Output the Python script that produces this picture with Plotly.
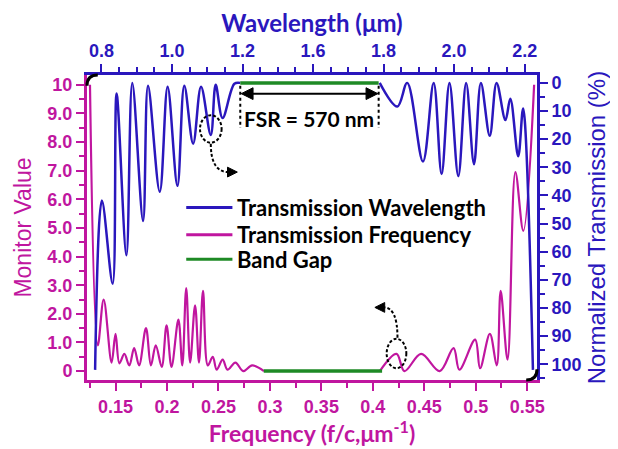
import plotly.graph_objects as go

# ---------------- data ----------------
# Transmission vs frequency (bottom axis, left axis "Monitor Value"); None = band gap (drawn in green)
freq = [0.1252, 0.1328, 0.1385, 0.1462, 0.1500, 0.1538, 0.1586, 0.1634, 0.1681, 0.1729,
        0.1796, 0.1844, 0.1891, 0.1949, 0.1996, 0.2044, 0.2111, 0.2149, 0.2187, 0.2225,
        0.2273, 0.2311, 0.2350, 0.2397, 0.2445, 0.2483, 0.2541, 0.2588, 0.2665, 0.2741,
        0.2827, 0.2942, None, 0.4068, 0.4230, 0.4307, 0.4469, 0.4650, 0.4784, 0.4841, 0.4994,
        0.5042, 0.5137, 0.5204, 0.5242, 0.5309, 0.5385, 0.5462, 0.5567]
monitor = [10.0, 0.9, 2.5, 0.3, 1.3, 0.27, 0.6, 0.2, 0.8, 0.2,
           1.5, 0.2, 0.9, 0.15, 1.6, 0.15, 1.8, 0.2, 2.9, 0.3,
           2.3, 0.3, 2.8, 0.2, 0.5, 0.05, 0.4, 0.05, 0.3, 0.0,
           0.2, 0.0, None, 0.0, 0.6, 0.0, 0.6, 0.0, 0.8, 0.05, 1.1,
           0.1, 1.3, 0.2, 2.8, 0.4, 6.95, 4.9, 10.0]

# Transmission vs wavelength (top axis, right axis "Normalized Transmission (%)")
wavelength = [0.782, 0.8012, 0.8318, 0.8429, 0.8707, 0.8874, 0.918, 0.932, 0.9653, 0.9876,
              1.0154, 1.0349, 1.06, 1.0823, 1.11, 1.1239, 1.1434, 1.1769, 1.1936, None, 1.589,
              1.639, 1.667, 1.7116, 1.742, 1.7645, 1.7868, 1.8118, 1.8341, 1.8564, 1.8759,
              1.901, 1.9204, 1.9455, 1.9594, 1.9817, 1.9956, 2.0235]
transmission = [102, 41.8, 71.4, 3.8, 61.3, 0.0, 49.1, 1.0, 38.7, 1.4,
                36.6, 1.0, 21.6, 1.4, 18.5, 0.7, 12.5, 0.3, 0.0, None, 0.0,
                8.4, 0.0, 27.9, 0.0, 32.4, 0.0, 33.1, 0.0, 28.9, 0.0,
                18.8, 0.0, 13.2, 5.6, 26.1, 9.1, 102]

# Band gap
gap_freq = [0.294, 0.409]
gap_freq_val = [0.0, 0.0]
gap_wl = [1.1936, 1.586]
gap_wl_val = [0.0, 0.0]

# Axis ticks
left_vals = [0, 1, 2, 3, 4, 5, 6, 7, 8, 9, 10]
left_text = ["0", "1.0", "2.0", "3.0", "4.0", "5.0", "6.0", "7.0", "8.0", "9.0", "10"]
right_vals = [0, 10, 20, 30, 40, 50, 60, 70, 80, 90, 100]
right_text = [str(v) for v in right_vals]
bottom_vals = [0.15, 0.2, 0.25, 0.3, 0.35, 0.4, 0.45, 0.5, 0.55]
bottom_text = ["0.15", "0.2", "0.25", "0.3", "0.35", "0.4", "0.45", "0.5", "0.55"]
top_vals = [0.8, 1.0, 1.2, 1.4, 1.6, 1.8, 2.0]
top_text = ["0.8", "1.0", "1.2", "1.6", "1.8", "2.0", "2.2"]

legend_names = ["Transmission Wavelength", "Transmission Frequency", "Band Gap"]
fsr_label = "FSR = 570 nm"

# ---------------- style ----------------
BLUE = "#2a17bd"
MAG = "#c0169f"
GREEN = "#1e8a25"
OFF = 8                      # page body margin
W, H = 618 - OFF, 449 - OFF
L, T = 87 - OFF, 69 - OFF
R, B = W - (545 - OFF), H - (380 - OFF)
PW, PH = W - L - R, H - T - B


def px(x):   # page pixel -> paper
    return (x - OFF - L) / PW


def py(y):
    return (H - B - (y - OFF)) / PH


fig = go.Figure()
fig.add_trace(go.Scatter(x=wavelength, y=transmission, xaxis="x2", yaxis="y2", mode="lines",
                         line=dict(color=BLUE, width=2.5, shape="spline", smoothing=1.0),
                         name=legend_names[0], showlegend=False, connectgaps=False))
fig.add_trace(go.Scatter(x=freq, y=monitor, mode="lines",
                         line=dict(color=MAG, width=2.2, shape="spline", smoothing=1.0),
                         name=legend_names[1], showlegend=False, connectgaps=False))
fig.add_trace(go.Scatter(x=gap_freq, y=gap_freq_val, mode="lines",
                         line=dict(color=GREEN, width=3.5), name=legend_names[2], showlegend=False))
fig.add_trace(go.Scatter(x=gap_wl, y=gap_wl_val, xaxis="x2", yaxis="y2", mode="lines",
                         line=dict(color=GREEN, width=3.5), name=legend_names[2], showlegend=False))

tickfont_mag = dict(family="Liberation Sans", size=18, color=MAG, weight="bold")
tickfont_blue = dict(family="Liberation Sans", size=18, color=BLUE, weight="bold")

fig.update_layout(
    width=W, height=H, margin=dict(l=L, r=R, t=T, b=B),
    paper_bgcolor="white", plot_bgcolor="white", showlegend=False,
    xaxis=dict(range=[0.1223, 0.5595], tickvals=bottom_vals, ticktext=bottom_text,
               showline=True, linecolor=MAG, linewidth=3, ticks="outside", ticklen=8,
               tickwidth=2, tickcolor=MAG, tickfont=tickfont_mag, showgrid=False, zeroline=False,
               minor=dict(dtick=0.025, tick0=0.125, ticklen=5, tickwidth=1.5, tickcolor=MAG,
                          ticks="outside", showgrid=False),
               title=dict(text="Frequency (f/c,μm<sup>-1</sup>)",
                          font=dict(family="Lato", size=23, color=MAG, weight="bold"), standoff=4)),
    yaxis=dict(range=[-0.31, 10.34], tickvals=left_vals, ticktext=left_text,
               showline=True, linecolor=MAG, linewidth=3, ticks="outside", ticklen=8,
               tickwidth=2, tickcolor=MAG, tickfont=tickfont_mag, showgrid=False, zeroline=False,
               minor=dict(dtick=0.5, tick0=0, ticklen=5, tickwidth=1.5, tickcolor=MAG,
                          ticks="outside", showgrid=False),
               title=dict(text="Monitor Value",
                          font=dict(family="Liberation Sans", size=23, color=MAG), standoff=10)),
    xaxis2=dict(range=[0.759, 2.035], overlaying="x", side="top", anchor="y",
                tickvals=top_vals, ticktext=top_text,
                showline=True, linecolor=BLUE, linewidth=3, ticks="outside", ticklen=8,
                tickwidth=2, tickcolor=BLUE, tickfont=tickfont_blue, showgrid=False, zeroline=False,
                minor=dict(dtick=0.05, tick0=0.8, ticklen=5, tickwidth=1.5, tickcolor=BLUE,
                           ticks="outside", showgrid=False),
                title=dict(text="Wavelength (μm)",
                           font=dict(family="Lato", size=24, color=BLUE, weight="bold"), standoff=4)),
    yaxis2=dict(range=[105.6, -2.8], overlaying="y", side="right", anchor="x",
                tickvals=right_vals, ticktext=right_text,
                showline=True, linecolor=BLUE, linewidth=3, ticks="outside", ticklen=8,
                tickwidth=2, tickcolor=BLUE, tickfont=tickfont_blue, showgrid=False, zeroline=False,
                minor=dict(dtick=5, tick0=0, ticklen=5, tickwidth=1.5, tickcolor=BLUE,
                           ticks="outside", showgrid=False),
                title=dict(text="Normalized Transmission (%)",
                           font=dict(family="Liberation Sans", size=24, color=BLUE), standoff=8)),
)

DASH = "3px,2px"
shapes = []
# FSR dotted verticals
for xv in gap_wl:
    shapes.append(dict(type="line", xref="x2", yref="y2", x0=xv, x1=xv, y0=1, y1=16,
                       line=dict(color="black", width=2, dash="dot")))
# FSR double arrow (line + two heads)
shapes.append(dict(type="line", xref="paper", yref="paper", x0=px(250), x1=px(377),
                   y0=py(88), y1=py(88), line=dict(color="black", width=2)))
shapes.append(dict(type="path", xref="paper", yref="paper",
                   path=f"M {px(244)},{py(88)} L {px(256)},{py(82)} L {px(256)},{py(94)} Z",
                   fillcolor="black", line=dict(color="black", width=1)))
shapes.append(dict(type="path", xref="paper", yref="paper",
                   path=f"M {px(383)},{py(88)} L {px(371)},{py(82)} L {px(371)},{py(94)} Z",
                   fillcolor="black", line=dict(color="black", width=1)))
# legend lines
legend_colors = [BLUE, MAG, GREEN]
legend_y = [204, 232, 257]
for c, yy in zip(legend_colors, legend_y):
    shapes.append(dict(type="line", xref="paper", yref="paper", x0=px(188), x1=px(235),
                       y0=py(yy), y1=py(yy), line=dict(color=c, width=3)))
# dashed circles
shapes.append(dict(type="circle", xref="paper", yref="paper", x0=px(202), x1=px(224),
                   y0=py(138), y1=py(110), line=dict(color="black", width=2, dash=DASH)))
shapes.append(dict(type="circle", xref="paper", yref="paper", x0=px(392), x1=px(412),
                   y0=py(368), y1=py(338), line=dict(color="black", width=2, dash=DASH)))
# curved dashed arrows
shapes.append(dict(type="path", xref="paper", yref="paper",
                   path=f"M {px(213)},{py(139)} Q {px(213)},{py(168)} {px(231)},{py(168)}",
                   line=dict(color="black", width=2, dash=DASH)))
shapes.append(dict(type="path", xref="paper", yref="paper",
                   path=f"M {px(240)},{py(168)} L {px(230)},{py(163)} L {px(230)},{py(173)} Z",
                   fillcolor="black", line=dict(color="black", width=1)))
shapes.append(dict(type="path", xref="paper", yref="paper",
                   path=f"M {px(403)},{py(337)} Q {px(403)},{py(306)} {px(389)},{py(306)}",
                   line=dict(color="black", width=2, dash=DASH)))
shapes.append(dict(type="path", xref="paper", yref="paper",
                   path=f"M {px(380)},{py(306)} L {px(390)},{py(301)} L {px(390)},{py(311)} Z",
                   fillcolor="black", line=dict(color="black", width=1)))
# rounded black frame corners
shapes.append(dict(type="path", xref="paper", yref="paper",
                   path=f"M {px(87)},{py(80)} Q {px(87)},{py(69)} {px(98)},{py(69)}",
                   line=dict(color="black", width=3)))
shapes.append(dict(type="path", xref="paper", yref="paper",
                   path=f"M {px(534)},{py(380)} Q {px(545)},{py(380)} {px(545)},{py(369)}",
                   line=dict(color="black", width=3)))
fig.update_layout(shapes=shapes)

annotations = []
annotations.append(dict(x=sum(gap_wl) / 2, y=12.5, xref="x2", yref="y2", text=fsr_label,
                        showarrow=False, font=dict(family="Lato", size=21, color="black", weight="bold")))
for name, yy in zip(legend_names, legend_y):
    annotations.append(dict(x=px(238), y=py(yy), xref="paper", yref="paper", text=name,
                            showarrow=False, xanchor="left", yanchor="middle",
                            font=dict(family="Lato", size=22, color="black", weight="bold")))
fig.update_layout(annotations=annotations)

fig.write_html("out.html")
